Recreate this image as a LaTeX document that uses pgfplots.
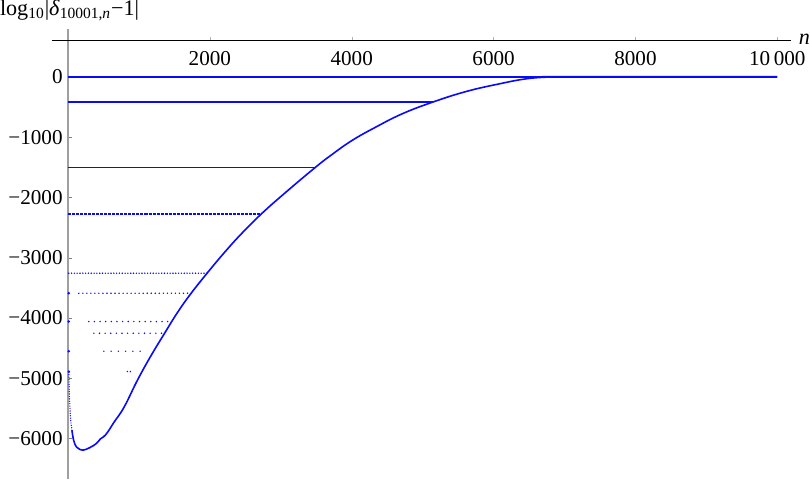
\documentclass[border=0pt]{standalone}
\usepackage{fontspec}
\setmainfont{Liberation Serif}
\usepackage{pgfplots}
\pgfplotsset{compat=1.18}
\definecolor{mblue}{RGB}{10,10,250}

\begin{document}
\begin{tikzpicture}
\pgfplotsset{
  frame/.style={width=367.5pt, height=223.8pt, scale only axis,
    xmin=-227, xmax=10200},
  lvl/.style={draw=mblue, line width=0.8pt},
  dots/.style={draw=mblue, line width=0.8pt, line cap=round},
}
% data axis with the y axis at n = 0
\begin{axis}[frame, ymin=-6667, ymax=800,
  axis x line=none, axis y line=middle,
  y axis line style={-, gray!75, line width=0.6pt},
  ytick={-6000,-5000,...,0},
  yticklabels={\mbox{−6000},\mbox{−5000},\mbox{−4000},\mbox{−3000},\mbox{−2000},\mbox{−1000},\mbox{0}},
  yticklabel style={font=\fontsize{10.5}{12}\selectfont, anchor=east, inner sep=1.5pt},
  ytick style={gray, xshift=1pt}, major tick length=2pt,
  hide obscured y ticks=false,
  ylabel={log\textsubscript{10}|\textit{δ}\textsubscript{10001,\textit{n}}−1|},
  every axis y label/.style={at={(axis cs:0,800)}, anchor=base west, inner sep=0pt,
    xshift=-34pt, yshift=6.5pt, font=\fontsize{11}{13}\selectfont},
]
\addplot[lvl] coordinates {(0,0) (10000,0)};
\addplot[lvl] coordinates {(0,-418) (5139,-418)};
\addplot[lvl] coordinates {(0,-1506) (3490,-1506)};
\addplot[lvl, dash pattern=on 1.5pt off 0.5pt] coordinates {(0,-2270) (2709,-2270)};
\addplot[dots, dash pattern=on 0pt off 1.4pt] coordinates {(10,-3257) (1972,-3257)};
\addplot[dots, dash pattern=on 0pt off 2pt] coordinates {(152,-3589) (1712,-3589)};
\addplot[dots, dash pattern=on 0pt off 2.8pt] coordinates {(293,-4058) (1428,-4058)};
\addplot[dots, dash pattern=on 0pt off 2.8pt] coordinates {(364,-4252) (1357,-4252)};
\addplot[dots, dash pattern=on 0pt off 3.6pt] coordinates {(506,-4551) (1096,-4551)};
\addplot[dots, dash pattern=on 0pt off 1.5pt] coordinates {(837,-4887) (908,-4887)};
\addplot[only marks, mblue, mark=*, mark size=0.4pt] coordinates {
  (10,-4058) (10,-4551) (12,-4887) (10,-3589)};
% scattered points close to n = 0
\addplot[dots, line width=0.7pt, dash pattern=on 0pt off 1.2pt] coordinates {
  (12,-4900) (15,-5100) (20,-5300) (28,-5500) (38,-5700) (55,-5860)};
% main curve
\addplot[draw=mblue, line width=0.8pt, smooth, tension=0.7] coordinates {
  (55,-5860) (80,-6030) (120,-6140) (170,-6180) (210,-6190) (260,-6175)
  (320,-6140) (400,-6080) (458,-6002) (500,-5970) (560,-5890) (648,-5728)
  (790,-5478) (979,-5030) (1167,-4630) (1357,-4261) (1546,-3903)
  (1735,-3590) (1972,-3240) (2209,-2908) (2444,-2603) (2728,-2271)
  (3060,-1925) (3485,-1504) (3720,-1290) (4004,-1056) (4336,-836)
  (4713,-613) (5139,-421) (5613,-244) (6085,-116) (6464,-33)
  (6794,-3) (7000,0) (10000,0)};
\end{axis}
% second axis, only for the x axis drawn at y = 600
\begin{axis}[frame, ymin=-7267, ymax=200,
  axis y line=none, axis x line=middle,
  x axis line style={-, black, line width=0.5pt},
  scaled x ticks=false,
  xtick={2000,4000,6000,8000,10000},
  xticklabels={\mbox{2000},\mbox{4000},\mbox{6000},\mbox{8000},\mbox{10\,000}},
  xticklabel style={font=\fontsize{10.5}{12}\selectfont, anchor=north, inner sep=0pt, yshift=-4pt},
  xtick style={gray!60, yshift=1pt}, major tick length=2pt,
  xlabel={\textit{n}},
  every axis x label/.style={at={(axis cs:10200,0)}, anchor=west,
    inner sep=0pt, xshift=3.5pt, yshift=0.5pt, font=\fontsize{11}{13}\selectfont},
]
\end{axis}
\end{tikzpicture}
\end{document}
